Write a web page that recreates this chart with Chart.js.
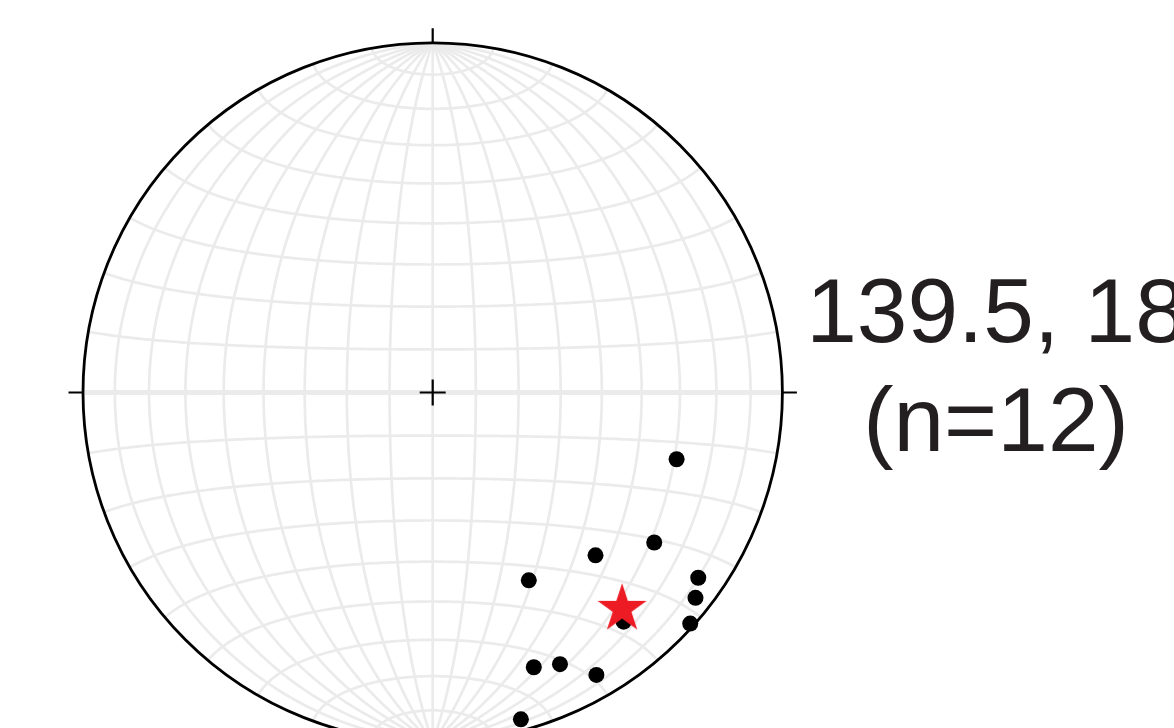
<!DOCTYPE html>
<html>
<head>
<meta charset="utf-8">
<script src="https://cdn.jsdelivr.net/npm/chart.js@4/dist/chart.umd.min.js"></script>
<style>
  html, body { margin: 0; padding: 0; background: #fff; }
  canvas { display: block; }
</style>
</head>
<body>
<canvas id="net" width="1174" height="728"></canvas>
<script>
// Lineations on a lower-hemisphere equal-area (Schmidt) net

// trend / plunge of each measurement, degrees
const trends  = [105.3, 124.1, 135.0, 152.9, 124.9, 128.0, 131.9, 140.2, 159.8, 154.9, 149.9, 164.9];
const plunges = [28.5, 24.5, 34.5, 39.5, 8.2, 5.2, 1.2, 15.8, 17.4, 15.3, 7.4, 3.6];

// mean vector (red star)
const meanTrend  = [138.8];
const meanPlunge = [18.9];

const labelLines = ['139.5, 18', '(n=12)'];
const gridStep = 10;

// layout of the net on the canvas
const CX = 432.7, CY = 392.5, R = 349.7;
const W = 1174, H = 728;
const GRID_COLOR = '#ebebeb';
const TEXT_COLOR = '#231f20';
const STAR_COLOR = '#ed1c24';

// equal-area projection of a unit vector (east, north, down), primitive = 1
function projVec(e, n, d) {
  const k = 1 / Math.sqrt(1 + d);
  return { x: e * k, y: n * k };
}

function project(trend, plunge) {
  const t = trend * Math.PI / 180, p = plunge * Math.PI / 180;
  return projVec(Math.cos(p) * Math.sin(t), Math.cos(p) * Math.cos(t), Math.sin(p));
}

const points = trends.map((t, i) => project(t, plunges[i]));
const meanPoints = meanTrend.map((t, i) => project(t, meanPlunge[i]));

// filled five point star used as point style
function makeStar(outer, color) {
  const size = Math.ceil(outer * 2 + 2);
  const c = document.createElement('canvas');
  c.width = size; c.height = size;
  const g = c.getContext('2d');
  const inner = outer * 0.381966;
  g.beginPath();
  for (let i = 0; i < 10; i++) {
    const r = i % 2 === 0 ? outer : inner;
    const a = -Math.PI / 2 + i * Math.PI / 5;
    const px = size / 2 + r * Math.cos(a), py = size / 2 + r * Math.sin(a);
    if (i === 0) g.moveTo(px, py); else g.lineTo(px, py);
  }
  g.closePath();
  g.fillStyle = color;
  g.fill();
  return c;
}

const netPlugin = {
  id: 'schmidtNet',
  beforeDatasetsDraw(chart) {
    const { ctx, scales: { x, y } } = chart;
    const toPx = p => [x.getPixelForValue(p.x), y.getPixelForValue(p.y)];
    const steps = 180;

    const strokeCurve = (fn, width) => {
      ctx.beginPath();
      for (let s = 0; s <= steps; s++) {
        const t = Math.PI * s / steps;
        const [px, py] = toPx(fn(t));
        if (s === 0) ctx.moveTo(px, py); else ctx.lineTo(px, py);
      }
      ctx.lineWidth = width;
      ctx.stroke();
    };

    ctx.save();
    ctx.strokeStyle = GRID_COLOR;
    ctx.lineJoin = 'round';

    // great circles striking N-S
    for (let dip = gridStep; dip < 180; dip += gridStep) {
      const a = dip * Math.PI / 180;
      strokeCurve(t => projVec(Math.sin(t) * Math.cos(a), Math.cos(t), Math.sin(t) * Math.sin(a)), 2.7);
    }
    // small circles about the N-S axis
    for (let lat = gridStep; lat < 180; lat += gridStep) {
      const a = lat * Math.PI / 180;
      strokeCurve(t => projVec(Math.sin(a) * Math.cos(t), Math.cos(a), Math.sin(a) * Math.sin(t)), lat === 90 ? 5 : 2.7);
    }

    // primitive circle
    const [cx, cy] = toPx({ x: 0, y: 0 });
    const rad = x.getPixelForValue(1) - cx;
    ctx.strokeStyle = '#000';
    ctx.lineWidth = 2.8;
    ctx.beginPath();
    ctx.arc(cx, cy, rad, 0, Math.PI * 2);
    ctx.stroke();

    // N, E, S, W ticks and centre cross
    const tick = 14.5, cross = 13;
    ctx.lineWidth = 2.2;
    ctx.beginPath();
    ctx.moveTo(cx, cy - rad); ctx.lineTo(cx, cy - rad - tick);
    ctx.moveTo(cx, cy + rad); ctx.lineTo(cx, cy + rad + tick);
    ctx.moveTo(cx - rad, cy); ctx.lineTo(cx - rad - tick, cy);
    ctx.moveTo(cx + rad, cy); ctx.lineTo(cx + rad + tick, cy);
    ctx.moveTo(cx - cross, cy); ctx.lineTo(cx + cross, cy);
    ctx.moveTo(cx, cy - cross); ctx.lineTo(cx, cy + cross);
    ctx.stroke();
    ctx.restore();
  },
  afterDraw(chart) {
    const { ctx } = chart;
    ctx.save();
    ctx.fillStyle = TEXT_COLOR;
    ctx.font = '91px "Liberation Sans", Arial, sans-serif';
    ctx.textAlign = 'center';
    ctx.textBaseline = 'alphabetic';
    ctx.fillText(labelLines[0], 996, 342);
    ctx.fillText(labelLines[1], 996, 451);
    ctx.restore();
  }
};

new Chart(document.getElementById('net'), {
  type: 'scatter',
  data: {
    datasets: [
      {
        label: 'Lineations',
        data: points,
        order: 2,
        pointRadius: 8,
        pointHoverRadius: 8,
        pointBorderWidth: 0,
        backgroundColor: '#000',
        borderColor: '#000'
      },
      {
        label: 'Mean',
        data: meanPoints,
        order: 1,   // lower order is drawn on top
        pointStyle: makeStar(25.8, STAR_COLOR),
        pointRadius: 26,
        backgroundColor: STAR_COLOR,
        borderColor: STAR_COLOR
      }
    ]
  },
  options: {
    responsive: false,
    animation: false,
    events: [],
    devicePixelRatio: 1,
    layout: { padding: 0, autoPadding: false },
    scales: {
      x: { type: 'linear', display: false, min: -CX / R, max: (W - CX) / R },
      y: { type: 'linear', display: false, min: -(H - CY) / R, max: CY / R }
    },
    plugins: {
      legend: { display: false },
      tooltip: { enabled: false }
    }
  },
  plugins: [netPlugin]
});
</script>
</body>
</html>
